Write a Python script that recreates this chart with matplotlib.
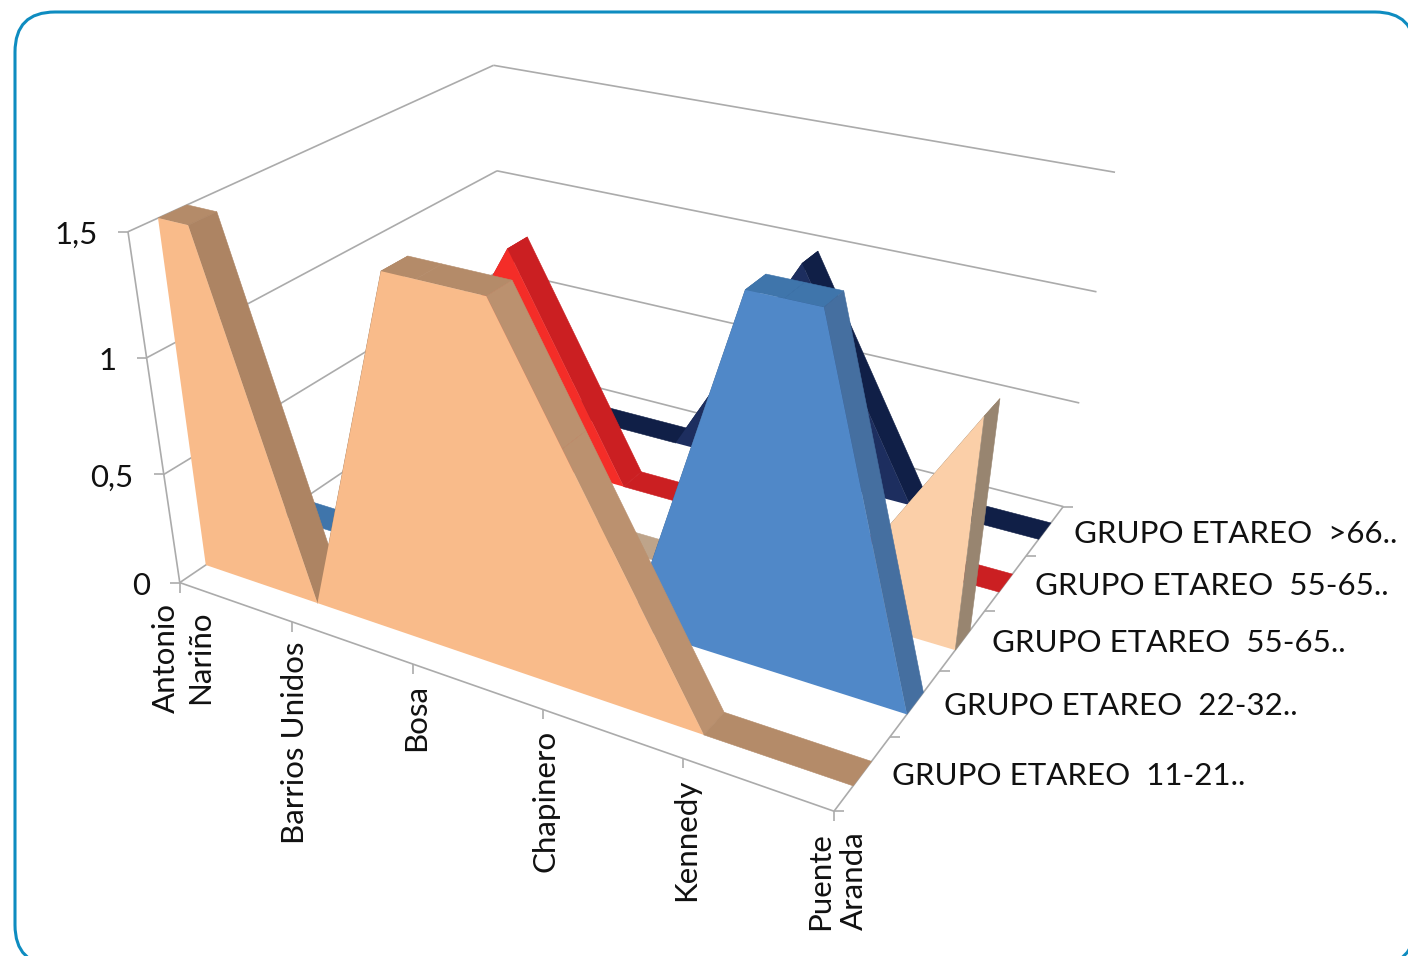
import numpy as np
import matplotlib
matplotlib.use("Agg")
import matplotlib.pyplot as plt
from matplotlib.patches import FancyBboxPatch

# ── data ─────────────────────────────────────────────────────────────────────
barrios = ["Antonio\nNariño", "Barrios Unidos", "Bosa", "Chapinero", "Kennedy", "Puente\nAranda"]
grupos = ["GRUPO ETAREO  11-21..", "GRUPO ETAREO  22-32..", "GRUPO ETAREO  55-65..",
          "GRUPO ETAREO  55-65..", "GRUPO ETAREO  >66.."]
grupo_11_21 = [2, 0, 2, 1, 0, 0]
grupo_22_32 = [0, 0, 0, 0, 2, 0]
grupo_55_65a = [0, 0, 0, 0, 0, 1]
grupo_55_65b = [0, 1, 0, 0, 0, 0]
grupo_66 = [0, 0, 0, 1, 0, 0]
series = [grupo_11_21, grupo_22_32, grupo_55_65a, grupo_55_65b, grupo_66]
z_ticks = [0, 0.5, 1, 1.5]
z_labels = ["0", "0,5", "1", "1,5"]
Z_MAX = 1.5  # the value axis stops here, taller peaks get cut flat

# face, flat strip, mild slope, steep slope, end cap
COLORS = [
    ("#F9BB8A", "#B48B69", "#BB916F", "#AD8463", "#B48B69"),
    ("#5088C8", "#3F75AB", "#456FA0", "#456FA0", "#456FA0"),
    ("#FBCFA8", "#BEA48A", "#BEA48A", "#BEA48A", "#988570"),
    ("#F42D28", "#CB1F22", "#CB1F22", "#CB1F22", "#CB1F22"),
    ("#1D2E5F", "#101F47", "#101F47", "#101F47", "#101F47"),
]
GRID = "#ABABAB"
BORDER = "#0E8CC0"
TEXT = "#111111"
FONT = "Lato"
FS = 22.5

# ── camera: fit a 3x4 projection to the box corners seen in the picture ──────
box = [(0, 0, 0), (5, 0, 0), (5, 5, 0), (0, 5, 0),
       (0, 0, .5), (5, 5, .5),
       (0, 0, 1), (5, 5, 1), (0, 5, 1),
       (0, 0, 1.5), (5, 5, 1.5), (0, 5, 1.5)]
px = [(182, 583), (834, 812), (1063, 506), (502, 365),
      (163, 472), (1080, 402),
      (145, 358), (1097, 292), (497, 170),
      (128, 233), (1114, 173), (495, 65)]
rows = []
rhs = []
for (u, v, w), (x, y) in zip(box, px):
    rows.append([u, v, w, 1, 0, 0, 0, 0, -x*u, -x*v, -x*w])
    rows.append([0, 0, 0, 0, u, v, w, 1, -y*u, -y*v, -y*w])
    rhs += [x, y]
sol = np.linalg.lstsq(np.array(rows, float), np.array(rhs, float), rcond=None)[0]
P = np.append(sol, 1.0).reshape(3, 4)


def proj(u, v, w):
    p = P @ np.array([u, v, w, 1.0])
    return p[0] / p[2], p[1] / p[2]


def clip_series(vals):
    """polyline (category, value) with peaks cut at the axis maximum"""
    out = [(0.0, min(vals[0], Z_MAX))]
    for i in range(len(vals) - 1):
        a, b = vals[i], vals[i + 1]
        if (a - Z_MAX) * (b - Z_MAX) < 0:
            out.append((i + (Z_MAX - a) / (b - a), Z_MAX))
        out.append((i + 1.0, min(b, Z_MAX)))
    return out


def poly(ax, pts, color, zorder, lw=0.4):
    xy = np.array(pts)
    ax.fill(xy[:, 0], xy[:, 1], facecolor=color, edgecolor=color if lw else "none",
            linewidth=lw, zorder=zorder)


def line(ax, a, b, lw=1.2):
    ax.plot(*zip(a, b), color=GRID, linewidth=lw, solid_capstyle="butt", zorder=2)


# ── figure ───────────────────────────────────────────────────────────────────
fig = plt.figure(figsize=(14.08, 9.56), dpi=100, facecolor="white")
ax = fig.add_axes([0, 0, 1, 1])
ax.set_xlim(0, 1408)
ax.set_ylim(956, 0)
ax.axis("off")

ax.add_patch(FancyBboxPatch((15, 12), 1400, 953, boxstyle="round,pad=0,rounding_size=40",
                            facecolor="white", edgecolor=BORDER, linewidth=2.2, zorder=0))

# walls
for w in z_ticks:
    line(ax, proj(0, 0, w), proj(0, 5, w))
    line(ax, proj(0, 5, w), proj(5, 5, w))

# axes and ticks
line(ax, proj(0, 0, 0), proj(0, 0, Z_MAX))
line(ax, proj(0, 0, 0), proj(5, 0, 0))
line(ax, proj(5, 0, 0), proj(5, 5, 0))
for w, lab in zip(z_ticks, z_labels):
    x, y = proj(0, 0, w)
    line(ax, (x - 10, y), (x, y))
    ax.text(x - 30, y + 3, lab, ha="right", va="center", fontsize=FS, color=TEXT, family=FONT)
for i, lab in enumerate(barrios):
    x, y = proj(i, 0, 0)
    line(ax, (x, y), (x, y + 10))
    ax.text(x + 3, y + 20, lab, rotation=90, ha="center", va="top", multialignment="center",
            fontsize=FS, color=TEXT, family=FONT, linespacing=1.25)
for j in range(len(grupos) + 1):
    x, y = proj(5, j, 0)
    line(ax, (x, y), (x + 10, y))
for j, lab in enumerate(grupos):
    x, y = proj(5, j + 0.5, 0)
    ax.text(x + 29, y + 3, lab, ha="left", va="center", fontsize=FS, color=TEXT, family=FONT)

# ribbons, back row first
V_FRONT, V_BACK = 0.33, 0.66
for j in reversed(range(len(series))):
    face, flat, mild, steep, cap = COLORS[j]
    pts = clip_series(series[j])
    vf, vb = j + V_FRONT, j + V_BACK
    z = 3 + (len(series) - j) * 3
    for (u0, w0), (u1, w1) in zip(pts[:-1], pts[1:]):
        drop = (w0 - w1) / (u1 - u0)
        col = flat if drop == 0 else (steep if abs(drop) > 1.5 else mild)
        poly(ax, [proj(u0, vf, w0), proj(u1, vf, w1), proj(u1, vb, w1), proj(u0, vb, w0)], col, z)
    if pts[-1][1] > 0:
        u, w = pts[-1]
        poly(ax, [proj(u, vf, 0), proj(u, vf, w), proj(u, vb, w), proj(u, vb, 0)], cap, z + 2)
    outline = [proj(u, vf, w) for u, w in pts] + [proj(5, vf, 0), proj(0, vf, 0)]
    poly(ax, outline, face, z + 1, lw=0)

fig.savefig("out.png", dpi=100, facecolor="white")
